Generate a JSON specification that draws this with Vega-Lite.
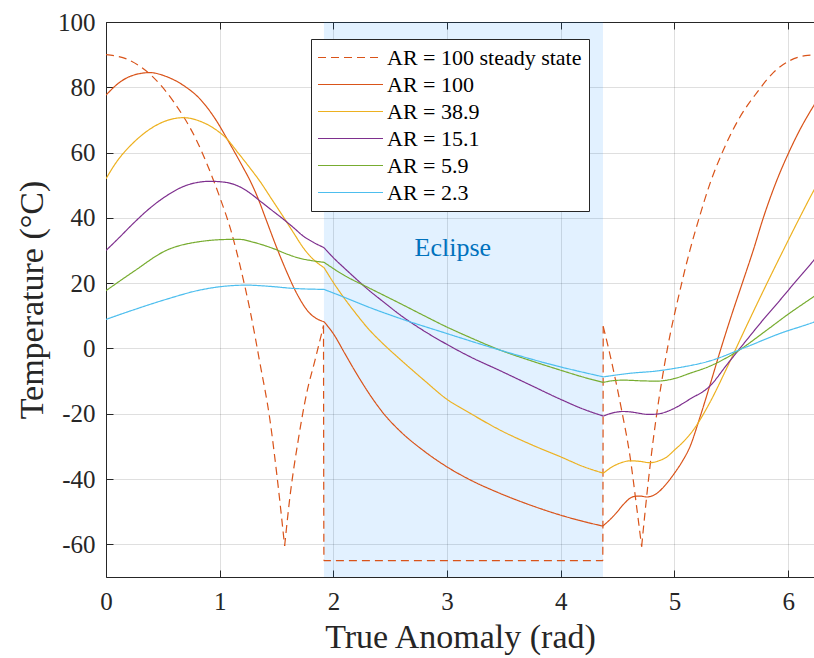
{
"$schema":"https://vega.github.io/schema/vega-lite/v6.json",
"width":708,"height":555,
"autosize":{"type":"none"},
"padding":{"left":106,"top":22,"right":0,"bottom":81},
"background":"white",
"config":{"view":{"stroke":null},"font":"Liberation Serif"},
"datasets":{"temps":[
{"x":0,"T":90,"s":"AR = 100 steady state","seg":"d1"},{"x":0.2,"T":88.4,"s":"AR = 100 steady state","seg":"d1"},{"x":0.4,"T":83.6,"s":"AR = 100 steady state","seg":"d1"},{"x":0.6,"T":75.3,"s":"AR = 100 steady state","seg":"d1"},{"x":0.8,"T":63.5,"s":"AR = 100 steady state","seg":"d1"},{"x":0.9,"T":55.5,"s":"AR = 100 steady state","seg":"d1"},{"x":1.0,"T":46.4,"s":"AR = 100 steady state","seg":"d1"},{"x":1.1,"T":36.0,"s":"AR = 100 steady state","seg":"d1"},{"x":1.178,"T":25.5,"s":"AR = 100 steady state","seg":"d1"},{"x":1.266,"T":11.8,"s":"AR = 100 steady state","seg":"d1"},{"x":1.354,"T":-4.5,"s":"AR = 100 steady state","seg":"d1"},{"x":1.442,"T":-21.9,"s":"AR = 100 steady state","seg":"d1"},{"x":1.501,"T":-38.2,"s":"AR = 100 steady state","seg":"d1"},{"x":1.571,"T":-60.5,"s":"AR = 100 steady state","seg":"d1"},
{"x":1.571,"T":-60.5,"s":"AR = 100 steady state","seg":"d2"},{"x":1.618,"T":-45.4,"s":"AR = 100 steady state","seg":"d2"},{"x":1.691,"T":-28.0,"s":"AR = 100 steady state","seg":"d2"},{"x":1.765,"T":-13.7,"s":"AR = 100 steady state","seg":"d2"},{"x":1.839,"T":-3.5,"s":"AR = 100 steady state","seg":"d2"},{"x":1.913,"T":7.0,"s":"AR = 100 steady state","seg":"d2"},
{"x":1.913,"T":7.0,"s":"AR = 100 steady state","seg":"d3"},{"x":1.917,"T":-65,"s":"AR = 100 steady state","seg":"d3"},{"x":4.369,"T":-65,"s":"AR = 100 steady state","seg":"d3"},{"x":4.373,"T":6.8,"s":"AR = 100 steady state","seg":"d3"},
{"x":4.373,"T":6.8,"s":"AR = 100 steady state","seg":"d4"},{"x":4.43,"T":-1.5,"s":"AR = 100 steady state","seg":"d4"},{"x":4.535,"T":-18.9,"s":"AR = 100 steady state","seg":"d4"},{"x":4.609,"T":-33.1,"s":"AR = 100 steady state","seg":"d4"},{"x":4.667,"T":-48.5,"s":"AR = 100 steady state","seg":"d4"},{"x":4.711,"T":-60.7,"s":"AR = 100 steady state","seg":"d4"},
{"x":4.711,"T":-60.7,"s":"AR = 100 steady state","seg":"d5"},{"x":4.74,"T":-50.5,"s":"AR = 100 steady state","seg":"d5"},{"x":4.785,"T":-36.0,"s":"AR = 100 steady state","seg":"d5"},{"x":4.844,"T":-20.0,"s":"AR = 100 steady state","seg":"d5"},{"x":4.888,"T":-10.0,"s":"AR = 100 steady state","seg":"d5"},{"x":4.946,"T":1.5,"s":"AR = 100 steady state","seg":"d5"},{"x":5.033,"T":15.5,"s":"AR = 100 steady state","seg":"d5"},{"x":5.136,"T":30.1,"s":"AR = 100 steady state","seg":"d5"},{"x":5.224,"T":40.8,"s":"AR = 100 steady state","seg":"d5"},{"x":5.312,"T":50.5,"s":"AR = 100 steady state","seg":"d5"},{"x":5.429,"T":60.7,"s":"AR = 100 steady state","seg":"d5"},{"x":5.576,"T":70.9,"s":"AR = 100 steady state","seg":"d5"},{"x":5.723,"T":78.3,"s":"AR = 100 steady state","seg":"d5"},{"x":5.869,"T":84.5,"s":"AR = 100 steady state","seg":"d5"},{"x":6.016,"T":88.2,"s":"AR = 100 steady state","seg":"d5"},{"x":6.15,"T":89.7,"s":"AR = 100 steady state","seg":"d5"},{"x":6.2832,"T":90.0,"s":"AR = 100 steady state","seg":"d5"},

{"x":0,"T":77.6,"s":"AR = 100","seg":"a1"},{"x":0.123,"T":81.6,"s":"AR = 100","seg":"a1"},{"x":0.24,"T":83.7,"s":"AR = 100","seg":"a1"},{"x":0.387,"T":84.5,"s":"AR = 100","seg":"a1"},{"x":0.53,"T":83.3,"s":"AR = 100","seg":"a1"},{"x":0.68,"T":80.6,"s":"AR = 100","seg":"a1"},{"x":0.827,"T":76.4,"s":"AR = 100","seg":"a1"},{"x":0.974,"T":69.6,"s":"AR = 100","seg":"a1"},{"x":1.06,"T":64.5,"s":"AR = 100","seg":"a1"},{"x":1.14,"T":59.6,"s":"AR = 100","seg":"a1"},{"x":1.208,"T":55.3,"s":"AR = 100","seg":"a1"},{"x":1.266,"T":51.5,"s":"AR = 100","seg":"a1"},{"x":1.325,"T":47.0,"s":"AR = 100","seg":"a1"},{"x":1.413,"T":39.0,"s":"AR = 100","seg":"a1"},{"x":1.5,"T":31.0,"s":"AR = 100","seg":"a1"},{"x":1.589,"T":23.5,"s":"AR = 100","seg":"a1"},{"x":1.677,"T":16.9,"s":"AR = 100","seg":"a1"},{"x":1.794,"T":10.7,"s":"AR = 100","seg":"a1"},{"x":1.86,"T":9.0,"s":"AR = 100","seg":"a1"},{"x":1.917,"T":8.2,"s":"AR = 100","seg":"a1"},
{"x":1.917,"T":8.2,"s":"AR = 100","seg":"a2"},{"x":2.0,"T":4.5,"s":"AR = 100","seg":"a2"},{"x":2.1,"T":-1.5,"s":"AR = 100","seg":"a2"},{"x":2.2,"T":-7.5,"s":"AR = 100","seg":"a2"},{"x":2.337,"T":-15.0,"s":"AR = 100","seg":"a2"},{"x":2.45,"T":-20.3,"s":"AR = 100","seg":"a2"},{"x":2.586,"T":-25.3,"s":"AR = 100","seg":"a2"},{"x":2.8,"T":-31.5,"s":"AR = 100","seg":"a2"},{"x":2.996,"T":-36.2,"s":"AR = 100","seg":"a2"},{"x":3.2,"T":-40.2,"s":"AR = 100","seg":"a2"},{"x":3.466,"T":-44.4,"s":"AR = 100","seg":"a2"},{"x":3.75,"T":-48.2,"s":"AR = 100","seg":"a2"},{"x":3.993,"T":-51.0,"s":"AR = 100","seg":"a2"},{"x":4.2,"T":-53.0,"s":"AR = 100","seg":"a2"},{"x":4.369,"T":-54.4,"s":"AR = 100","seg":"a2"},
{"x":4.369,"T":-54.4,"s":"AR = 100","seg":"a3"},{"x":4.43,"T":-52.5,"s":"AR = 100","seg":"a3"},{"x":4.49,"T":-50.3,"s":"AR = 100","seg":"a3"},{"x":4.55,"T":-47.8,"s":"AR = 100","seg":"a3"},{"x":4.637,"T":-45.4,"s":"AR = 100","seg":"a3"},{"x":4.70,"T":-45.2,"s":"AR = 100","seg":"a3"},{"x":4.755,"T":-45.5,"s":"AR = 100","seg":"a3"},{"x":4.80,"T":-45.2,"s":"AR = 100","seg":"a3"},{"x":4.844,"T":-44.4,"s":"AR = 100","seg":"a3"},{"x":4.92,"T":-41.8,"s":"AR = 100","seg":"a3"},{"x":5.0,"T":-38.2,"s":"AR = 100","seg":"a3"},{"x":5.07,"T":-34.5,"s":"AR = 100","seg":"a3"},{"x":5.136,"T":-30.1,"s":"AR = 100","seg":"a3"},{"x":5.22,"T":-21.5,"s":"AR = 100","seg":"a3"},{"x":5.312,"T":-11.2,"s":"AR = 100","seg":"a3"},{"x":5.4,"T":-1.0,"s":"AR = 100","seg":"a3"},{"x":5.5,"T":10.0,"s":"AR = 100","seg":"a3"},{"x":5.605,"T":20.9,"s":"AR = 100","seg":"a3"},{"x":5.693,"T":30.1,"s":"AR = 100","seg":"a3"},{"x":5.781,"T":40.0,"s":"AR = 100","seg":"a3"},{"x":5.9,"T":51.5,"s":"AR = 100","seg":"a3"},{"x":6.001,"T":59.7,"s":"AR = 100","seg":"a3"},{"x":6.1,"T":66.8,"s":"AR = 100","seg":"a3"},{"x":6.227,"T":74.5,"s":"AR = 100","seg":"a3"},{"x":6.2832,"T":77.6,"s":"AR = 100","seg":"a3"},

{"x":0,"T":52.0,"s":"AR = 38.9","seg":"b1"},{"x":0.094,"T":57.2,"s":"AR = 38.9","seg":"b1"},{"x":0.24,"T":63.0,"s":"AR = 38.9","seg":"b1"},{"x":0.387,"T":67.2,"s":"AR = 38.9","seg":"b1"},{"x":0.534,"T":69.8,"s":"AR = 38.9","seg":"b1"},{"x":0.68,"T":70.7,"s":"AR = 38.9","seg":"b1"},{"x":0.827,"T":69.6,"s":"AR = 38.9","seg":"b1"},{"x":0.95,"T":67.4,"s":"AR = 38.9","seg":"b1"},{"x":1.06,"T":64.3,"s":"AR = 38.9","seg":"b1"},{"x":1.16,"T":60.0,"s":"AR = 38.9","seg":"b1"},{"x":1.266,"T":55.3,"s":"AR = 38.9","seg":"b1"},{"x":1.354,"T":51.2,"s":"AR = 38.9","seg":"b1"},{"x":1.46,"T":45.6,"s":"AR = 38.9","seg":"b1"},{"x":1.56,"T":40.3,"s":"AR = 38.9","seg":"b1"},{"x":1.65,"T":35.4,"s":"AR = 38.9","seg":"b1"},{"x":1.736,"T":30.8,"s":"AR = 38.9","seg":"b1"},{"x":1.823,"T":27.3,"s":"AR = 38.9","seg":"b1"},{"x":1.917,"T":24.8,"s":"AR = 38.9","seg":"b1"},
{"x":1.917,"T":24.8,"s":"AR = 38.9","seg":"b2"},{"x":2.0,"T":20.2,"s":"AR = 38.9","seg":"b2"},{"x":2.087,"T":15.8,"s":"AR = 38.9","seg":"b2"},{"x":2.2,"T":10.6,"s":"AR = 38.9","seg":"b2"},{"x":2.293,"T":6.6,"s":"AR = 38.9","seg":"b2"},{"x":2.45,"T":1.0,"s":"AR = 38.9","seg":"b2"},{"x":2.586,"T":-3.3,"s":"AR = 38.9","seg":"b2"},{"x":2.8,"T":-9.8,"s":"AR = 38.9","seg":"b2"},{"x":2.996,"T":-15.5,"s":"AR = 38.9","seg":"b2"},{"x":3.2,"T":-19.8,"s":"AR = 38.9","seg":"b2"},{"x":3.466,"T":-25.0,"s":"AR = 38.9","seg":"b2"},{"x":3.75,"T":-29.6,"s":"AR = 38.9","seg":"b2"},{"x":3.993,"T":-33.1,"s":"AR = 38.9","seg":"b2"},{"x":4.2,"T":-36.2,"s":"AR = 38.9","seg":"b2"},{"x":4.374,"T":-38.2,"s":"AR = 38.9","seg":"b2"},
{"x":4.374,"T":-38.2,"s":"AR = 38.9","seg":"b3"},{"x":4.45,"T":-36.3,"s":"AR = 38.9","seg":"b3"},{"x":4.53,"T":-35.0,"s":"AR = 38.9","seg":"b3"},{"x":4.609,"T":-34.4,"s":"AR = 38.9","seg":"b3"},{"x":4.70,"T":-34.6,"s":"AR = 38.9","seg":"b3"},{"x":4.785,"T":-35.0,"s":"AR = 38.9","seg":"b3"},{"x":4.87,"T":-34.3,"s":"AR = 38.9","seg":"b3"},{"x":4.93,"T":-33.3,"s":"AR = 38.9","seg":"b3"},{"x":5.0,"T":-31.1,"s":"AR = 38.9","seg":"b3"},{"x":5.08,"T":-28.5,"s":"AR = 38.9","seg":"b3"},{"x":5.165,"T":-25.0,"s":"AR = 38.9","seg":"b3"},{"x":5.312,"T":-16.5,"s":"AR = 38.9","seg":"b3"},{"x":5.46,"T":-6.0,"s":"AR = 38.9","seg":"b3"},{"x":5.635,"T":7.0,"s":"AR = 38.9","seg":"b3"},{"x":5.8,"T":19.0,"s":"AR = 38.9","seg":"b3"},{"x":5.957,"T":30.1,"s":"AR = 38.9","seg":"b3"},{"x":6.1,"T":40.0,"s":"AR = 38.9","seg":"b3"},{"x":6.227,"T":48.5,"s":"AR = 38.9","seg":"b3"},{"x":6.2832,"T":52.0,"s":"AR = 38.9","seg":"b3"},

{"x":0,"T":30.0,"s":"AR = 15.1","seg":"c1"},{"x":0.123,"T":34.2,"s":"AR = 15.1","seg":"c1"},{"x":0.24,"T":38.3,"s":"AR = 15.1","seg":"c1"},{"x":0.38,"T":42.8,"s":"AR = 15.1","seg":"c1"},{"x":0.534,"T":46.8,"s":"AR = 15.1","seg":"c1"},{"x":0.71,"T":50.0,"s":"AR = 15.1","seg":"c1"},{"x":0.915,"T":51.2,"s":"AR = 15.1","seg":"c1"},{"x":1.05,"T":50.9,"s":"AR = 15.1","seg":"c1"},{"x":1.178,"T":49.5,"s":"AR = 15.1","seg":"c1"},{"x":1.27,"T":47.5,"s":"AR = 15.1","seg":"c1"},{"x":1.354,"T":45.2,"s":"AR = 15.1","seg":"c1"},{"x":1.46,"T":42.3,"s":"AR = 15.1","seg":"c1"},{"x":1.56,"T":39.6,"s":"AR = 15.1","seg":"c1"},{"x":1.65,"T":37.0,"s":"AR = 15.1","seg":"c1"},{"x":1.736,"T":34.4,"s":"AR = 15.1","seg":"c1"},{"x":1.83,"T":32.4,"s":"AR = 15.1","seg":"c1"},{"x":1.917,"T":30.9,"s":"AR = 15.1","seg":"c1"},
{"x":1.917,"T":30.9,"s":"AR = 15.1","seg":"c2"},{"x":2.0,"T":27.8,"s":"AR = 15.1","seg":"c2"},{"x":2.1,"T":24.5,"s":"AR = 15.1","seg":"c2"},{"x":2.2,"T":21.3,"s":"AR = 15.1","seg":"c2"},{"x":2.293,"T":18.4,"s":"AR = 15.1","seg":"c2"},{"x":2.45,"T":14.0,"s":"AR = 15.1","seg":"c2"},{"x":2.586,"T":10.3,"s":"AR = 15.1","seg":"c2"},{"x":2.8,"T":5.3,"s":"AR = 15.1","seg":"c2"},{"x":2.996,"T":1.3,"s":"AR = 15.1","seg":"c2"},{"x":3.2,"T":-2.5,"s":"AR = 15.1","seg":"c2"},{"x":3.466,"T":-6.8,"s":"AR = 15.1","seg":"c2"},{"x":3.75,"T":-11.5,"s":"AR = 15.1","seg":"c2"},{"x":3.993,"T":-15.5,"s":"AR = 15.1","seg":"c2"},{"x":4.2,"T":-18.6,"s":"AR = 15.1","seg":"c2"},{"x":4.374,"T":-20.7,"s":"AR = 15.1","seg":"c2"},
{"x":4.374,"T":-20.7,"s":"AR = 15.1","seg":"c3"},{"x":4.45,"T":-19.8,"s":"AR = 15.1","seg":"c3"},{"x":4.55,"T":-19.3,"s":"AR = 15.1","seg":"c3"},{"x":4.63,"T":-19.5,"s":"AR = 15.1","seg":"c3"},{"x":4.697,"T":-19.9,"s":"AR = 15.1","seg":"c3"},{"x":4.77,"T":-20.2,"s":"AR = 15.1","seg":"c3"},{"x":4.844,"T":-20.1,"s":"AR = 15.1","seg":"c3"},{"x":4.92,"T":-19.5,"s":"AR = 15.1","seg":"c3"},{"x":5.0,"T":-18.3,"s":"AR = 15.1","seg":"c3"},{"x":5.136,"T":-15.5,"s":"AR = 15.1","seg":"c3"},{"x":5.312,"T":-11.5,"s":"AR = 15.1","seg":"c3"},{"x":5.46,"T":-5.0,"s":"AR = 15.1","seg":"c3"},{"x":5.635,"T":2.6,"s":"AR = 15.1","seg":"c3"},{"x":5.78,"T":8.8,"s":"AR = 15.1","seg":"c3"},{"x":5.928,"T":14.8,"s":"AR = 15.1","seg":"c3"},{"x":6.075,"T":20.9,"s":"AR = 15.1","seg":"c3"},{"x":6.227,"T":27.1,"s":"AR = 15.1","seg":"c3"},{"x":6.2832,"T":29.6,"s":"AR = 15.1","seg":"c3"},

{"x":0,"T":17.7,"s":"AR = 5.9","seg":"e1"},{"x":0.24,"T":23.5,"s":"AR = 5.9","seg":"e1"},{"x":0.534,"T":30.1,"s":"AR = 5.9","seg":"e1"},{"x":0.8,"T":32.6,"s":"AR = 5.9","seg":"e1"},{"x":1.09,"T":33.4,"s":"AR = 5.9","seg":"e1"},{"x":1.178,"T":33.4,"s":"AR = 5.9","seg":"e1"},{"x":1.3,"T":32.5,"s":"AR = 5.9","seg":"e1"},{"x":1.472,"T":30.6,"s":"AR = 5.9","seg":"e1"},{"x":1.6,"T":28.8,"s":"AR = 5.9","seg":"e1"},{"x":1.706,"T":27.6,"s":"AR = 5.9","seg":"e1"},{"x":1.81,"T":26.9,"s":"AR = 5.9","seg":"e1"},{"x":1.917,"T":26.4,"s":"AR = 5.9","seg":"e1"},
{"x":1.917,"T":26.4,"s":"AR = 5.9","seg":"e2"},{"x":2.1,"T":22.3,"s":"AR = 5.9","seg":"e2"},{"x":2.293,"T":18.9,"s":"AR = 5.9","seg":"e2"},{"x":2.586,"T":13.8,"s":"AR = 5.9","seg":"e2"},{"x":2.8,"T":10.0,"s":"AR = 5.9","seg":"e2"},{"x":2.996,"T":6.6,"s":"AR = 5.9","seg":"e2"},{"x":3.2,"T":3.4,"s":"AR = 5.9","seg":"e2"},{"x":3.466,"T":-0.5,"s":"AR = 5.9","seg":"e2"},{"x":3.75,"T":-3.9,"s":"AR = 5.9","seg":"e2"},{"x":3.993,"T":-6.6,"s":"AR = 5.9","seg":"e2"},{"x":4.2,"T":-8.8,"s":"AR = 5.9","seg":"e2"},{"x":4.374,"T":-10.4,"s":"AR = 5.9","seg":"e2"},
{"x":4.374,"T":-10.4,"s":"AR = 5.9","seg":"e3"},{"x":4.45,"T":-9.9,"s":"AR = 5.9","seg":"e3"},{"x":4.55,"T":-9.7,"s":"AR = 5.9","seg":"e3"},{"x":4.7,"T":-9.9,"s":"AR = 5.9","seg":"e3"},{"x":4.844,"T":-10.0,"s":"AR = 5.9","seg":"e3"},{"x":5.0,"T":-9.2,"s":"AR = 5.9","seg":"e3"},{"x":5.136,"T":-7.6,"s":"AR = 5.9","seg":"e3"},{"x":5.312,"T":-5.4,"s":"AR = 5.9","seg":"e3"},{"x":5.547,"T":-1.0,"s":"AR = 5.9","seg":"e3"},{"x":5.811,"T":5.6,"s":"AR = 5.9","seg":"e3"},{"x":6.0,"T":10.5,"s":"AR = 5.9","seg":"e3"},{"x":6.221,"T":15.8,"s":"AR = 5.9","seg":"e3"},{"x":6.2832,"T":17.3,"s":"AR = 5.9","seg":"e3"},

{"x":0,"T":8.9,"s":"AR = 2.3","seg":"f1"},{"x":0.24,"T":11.8,"s":"AR = 2.3","seg":"f1"},{"x":0.534,"T":15.1,"s":"AR = 2.3","seg":"f1"},{"x":0.827,"T":17.9,"s":"AR = 2.3","seg":"f1"},{"x":1.0,"T":18.9,"s":"AR = 2.3","seg":"f1"},{"x":1.237,"T":19.4,"s":"AR = 2.3","seg":"f1"},{"x":1.45,"T":19.0,"s":"AR = 2.3","seg":"f1"},{"x":1.648,"T":18.4,"s":"AR = 2.3","seg":"f1"},{"x":1.917,"T":18.1,"s":"AR = 2.3","seg":"f1"},
{"x":1.917,"T":18.1,"s":"AR = 2.3","seg":"f2"},{"x":2.087,"T":15.8,"s":"AR = 2.3","seg":"f2"},{"x":2.3,"T":12.8,"s":"AR = 2.3","seg":"f2"},{"x":2.586,"T":9.2,"s":"AR = 2.3","seg":"f2"},{"x":2.996,"T":4.6,"s":"AR = 2.3","seg":"f2"},{"x":3.466,"T":-0.5,"s":"AR = 2.3","seg":"f2"},{"x":3.993,"T":-5.6,"s":"AR = 2.3","seg":"f2"},{"x":4.374,"T":-8.7,"s":"AR = 2.3","seg":"f2"},
{"x":4.374,"T":-8.7,"s":"AR = 2.3","seg":"f3"},{"x":4.609,"T":-7.6,"s":"AR = 2.3","seg":"f3"},{"x":4.844,"T":-6.9,"s":"AR = 2.3","seg":"f3"},{"x":5.0,"T":-6.1,"s":"AR = 2.3","seg":"f3"},{"x":5.312,"T":-3.8,"s":"AR = 2.3","seg":"f3"},{"x":5.635,"T":0.5,"s":"AR = 2.3","seg":"f3"},{"x":5.928,"T":4.6,"s":"AR = 2.3","seg":"f3"},{"x":6.221,"T":8.0,"s":"AR = 2.3","seg":"f3"},{"x":6.2832,"T":8.8,"s":"AR = 2.3","seg":"f3"}
]},
"resolve":{"axis":{"x":"independent"}},
"layer":[
{"data":{"values":[{"start":1.917,"end":4.371,"lo":-70,"hi":100}]},
 "mark":{"type":"rect","fill":"#0080FF","opacity":0.115},
 "encoding":{
  "x":{"field":"start","type":"quantitative","scale":{"domain":[0,6.227],"nice":false,"zero":false},
   "axis":{"orient":"bottom","values":[0,1,2,3,4,5,6],"labelFlush":false,"grid":true,"gridColor":"#262626","gridOpacity":0.15,"domainColor":"#262626","tickColor":"#262626","tickSize":-7,"labelPadding":19,"labelFont":"Liberation Serif","labelFontSize":25,"labelColor":"#262626","title":"True Anomaly (rad)","titleFont":"Liberation Serif","titleFontSize":34,"titleFontWeight":"normal","titleColor":"#262626","titlePadding":6}},
  "x2":{"field":"end"},
  "y":{"field":"lo","type":"quantitative","scale":{"domain":[-70,100],"nice":false,"zero":false},
   "axis":{"orient":"left","values":[-60,-40,-20,0,20,40,60,80,100],"labelFlush":false,"labelExpr":"replace(datum.label,'−','-')","grid":true,"gridColor":"#262626","gridOpacity":0.15,"domainColor":"#262626","tickColor":"#262626","tickSize":-7,"labelPadding":18,"labelFont":"Liberation Serif","labelFontSize":25,"labelColor":"#262626","title":"Temperature (°C)","titleFont":"Liberation Serif","titleFontSize":34,"titleFontWeight":"normal","titleColor":"#262626","titlePadding":8}},
  "y2":{"field":"hi"}
 }},
{"data":{"name":"temps"},
 "mark":{"type":"line","interpolate":"monotone","strokeWidth":1.2,"clip":true},
 "encoding":{
  "x":{"field":"x","type":"quantitative","scale":{"domain":[0,6.227],"nice":false,"zero":false},
   "axis":{"orient":"top","values":[0,1,2,3,4,5,6],"grid":false,"labels":false,"title":null,"domainColor":"#262626","tickColor":"#262626","tickSize":-7}},
  "y":{"field":"T","type":"quantitative"},
  "detail":{"field":"seg"},
  "color":{"field":"s","type":"nominal",
   "scale":{"domain":["AR = 100 steady state","AR = 100","AR = 38.9","AR = 15.1","AR = 5.9","AR = 2.3"],"range":["#D95319","#D95319","#EDB120","#7E2F8E","#77AC30","#4DBEEE"]},
   "legend":{"title":null,"orient":"none","legendX":205,"legendY":17,"fillColor":"white","strokeColor":"#262626","padding":7,"symbolType":"M-3,0H3","symbolSize":469,"symbolStrokeWidth":1.2,"labelFont":"Liberation Serif","labelFontSize":22,"labelColor":"#000000","rowPadding":4,"labelOffset":25,"symbolOffset":21,"labelLimit":400}},
  "strokeDash":{"field":"s","type":"nominal",
   "scale":{"domain":["AR = 100 steady state","AR = 100","AR = 38.9","AR = 15.1","AR = 5.9","AR = 2.3"],"range":[[8,5],[1,0],[1,0],[1,0],[1,0],[1,0]]},
   "legend":{"title":null,"orient":"none","legendX":205,"legendY":17,"fillColor":"white","strokeColor":"#262626","padding":7,"symbolType":"M-3,0H3","symbolSize":469,"symbolStrokeWidth":1.2,"labelFont":"Liberation Serif","labelFontSize":22,"labelColor":"#000000","rowPadding":4,"labelOffset":25,"symbolOffset":21,"labelLimit":400}}
 }},
{"data":{"values":[{"x":3.05,"y":30.7,"label":"Eclipse"}]},
 "mark":{"type":"text","font":"Liberation Serif","fontSize":26,"color":"#0072BD","align":"center","baseline":"middle"},
 "encoding":{
  "x":{"field":"x","type":"quantitative","axis":null},
  "y":{"field":"y","type":"quantitative"},
  "text":{"field":"label"}
 }}
]
}
